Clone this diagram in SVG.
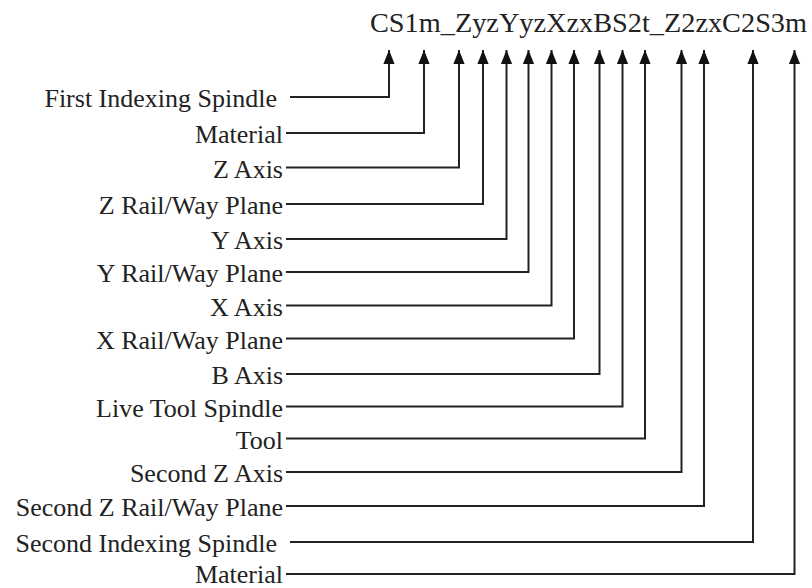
<svg xmlns="http://www.w3.org/2000/svg" width="812" height="588" viewBox="0 0 812 588">
<style>
text{font-family:'Liberation Serif','Times New Roman',Times,Tinos,'Noto Serif','DejaVu Serif',FreeSerif,serif;fill:#222}
.lbl{font-size:26px;text-anchor:end}
.code{font-size:28.3px}
.c{fill:none;stroke:#222;stroke-width:2}
</style>
<defs>
<marker id="ah" markerUnits="userSpaceOnUse" markerWidth="14" markerHeight="16" refX="15" refY="6" orient="auto" viewBox="0 0 15 12">
<path d="M0,0 L15,6 L0,12 Z" fill="#111"/>
</marker>
</defs>
<rect width="812" height="588" fill="#fff"/>
<g id="code"><text class="code" x="370" y="32" font-family="Liberation Serif, serif">CS1m_ZyzYyzXzxBS2t_Z2zxC2S3m</text></g>
<g id="connectors">
<path class="c" marker-end="url(#ah)" d="M290,97 H389 V50"/>
<path class="c" marker-end="url(#ah)" d="M286,133 H424 V50"/>
<path class="c" marker-end="url(#ah)" d="M286,167.5 H459 V50"/>
<path class="c" marker-end="url(#ah)" d="M286,204 H483 V50"/>
<path class="c" marker-end="url(#ah)" d="M286,239 H506.5 V50"/>
<path class="c" marker-end="url(#ah)" d="M286,272 H528.5 V50"/>
<path class="c" marker-end="url(#ah)" d="M286,305.5 H551.5 V50"/>
<path class="c" marker-end="url(#ah)" d="M286,338.5 H574 V50"/>
<path class="c" marker-end="url(#ah)" d="M286,374 H599.5 V50"/>
<path class="c" marker-end="url(#ah)" d="M286,406.5 H622.5 V50"/>
<path class="c" marker-end="url(#ah)" d="M286,438.5 H645 V50"/>
<path class="c" marker-end="url(#ah)" d="M286,472 H681.5 V50"/>
<path class="c" marker-end="url(#ah)" d="M286,506 H704 V50"/>
<path class="c" marker-end="url(#ah)" d="M290,542 H753 V50"/>
<path class="c" marker-end="url(#ah)" d="M286,574 H794.5 V50"/>
</g>
<g id="n1"><text class="lbl" x="277" y="107">First Indexing Spindle</text></g>
<g id="n2"><text class="lbl" x="283" y="143">Material</text></g>
<g id="n3"><text class="lbl" x="283" y="177.5">Z Axis</text></g>
<g id="n4"><text class="lbl" x="283" y="214">Z Rail/Way Plane</text></g>
<g id="n5"><text class="lbl" x="283" y="249">Y Axis</text></g>
<g id="n6"><text class="lbl" x="283" y="282">Y Rail/Way Plane</text></g>
<g id="n7"><text class="lbl" x="283" y="315.5">X Axis</text></g>
<g id="n8"><text class="lbl" x="283" y="348.5">X Rail/Way Plane</text></g>
<g id="n9"><text class="lbl" x="283" y="384">B Axis</text></g>
<g id="n10"><text class="lbl" x="283" y="416.5">Live Tool Spindle</text></g>
<g id="n11"><text class="lbl" x="283" y="448.5">Tool</text></g>
<g id="n12"><text class="lbl" x="283" y="482">Second Z Axis</text></g>
<g id="n13"><text class="lbl" x="283" y="516">Second Z Rail/Way Plane</text></g>
<g id="n14"><text class="lbl" x="277" y="552">Second Indexing Spindle</text></g>
<g id="n15"><text class="lbl" x="283" y="582.5">Material</text></g>
</svg>
